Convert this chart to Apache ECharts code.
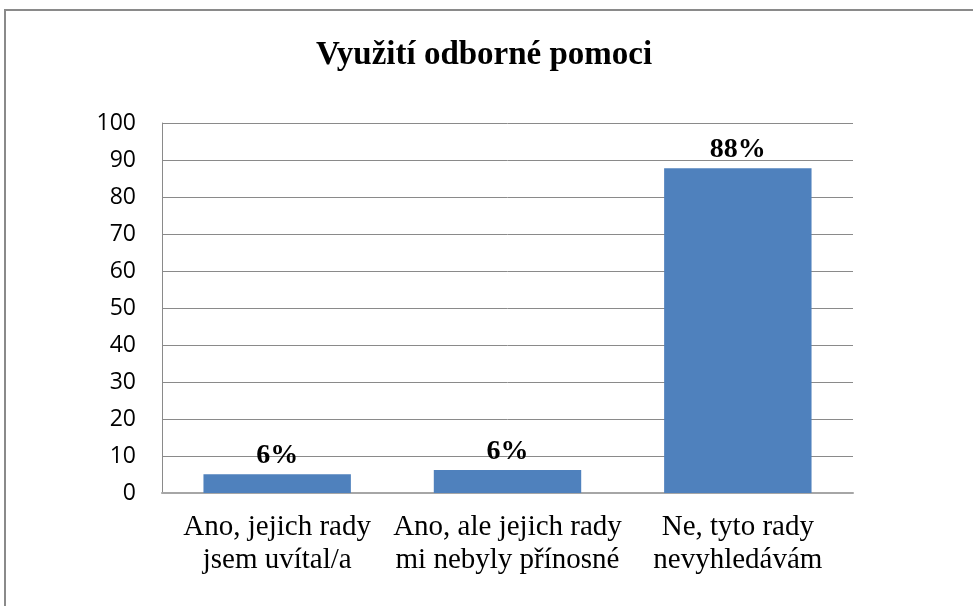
<!DOCTYPE html>
<html>
<head>
<meta charset="utf-8">
<script src="https://cdn.jsdelivr.net/npm/echarts@6/dist/echarts.min.js"></script>
<style>
  html, body { margin: 0; padding: 0; background: #fff; }
  #chart { width: 973px; height: 606px; }
</style>
</head>
<body>
<div id="chart"></div>
<script>
// hodnoty
const categories = ['Ano, jejich rady\njsem uvítal/a', 'Ano, ale jejich rady\nmi nebyly přínosné', 'Ne, tyto rady\nnevyhledávám']
const values = [5.1, 6.2, 87.8]
const labels = ['6%', '6%', '88%']

const chart = echarts.init(document.getElementById('chart'))
chart.setOption({
  animation: false,
  title: {
    text: 'Využití odborné pomoci',
    left: 311,
    top: 34,
    textStyle: {
      fontFamily: 'Liberation Serif',
      fontWeight: 'bold',
      fontSize: 33,
      color: '#000'
    }
  },
  graphic: [{
    type: 'rect',
    shape: { x: 5, y: 10, width: 1100, height: 800 },
    style: { fill: 'none', stroke: '#8a8a8a', lineWidth: 2 },
    silent: true
  }],
  grid: {
    left: 162,
    right: 120,
    top: 123,
    bottom: 113
  },
  xAxis: {
    type: 'category',
    data: categories,
    axisTick: { show: false },
    axisLine: { lineStyle: { color: '#a6a6a6', width: 2 } },
    axisLabel: {
      interval: 0,
      hideOverlap: false,
      margin: 18,
      lineHeight: 33,
      fontFamily: 'Liberation Serif',
      fontSize: 29,
      color: '#000'
    }
  },
  yAxis: {
    type: 'value',
    min: 0,
    max: 100,
    interval: 10,
    axisLine: { show: true, lineStyle: { color: '#8a8a8a' } },
    axisTick: { show: false },
    axisLabel: {
      margin: 26,
      fontFamily: 'Open Sans',
      fontSize: 23,
      color: '#000'
    },
    splitLine: { lineStyle: { color: '#8a8a8a' } }
  },
  series: [{
    type: 'bar',
    data: values,
    barCategoryGap: '36%',
    itemStyle: { color: '#4f81bd' },
    label: {
      show: true,
      position: 'top',
      distance: 4,
      formatter: p => labels[p.dataIndex],
      fontFamily: 'Liberation Serif',
      fontWeight: 'bold',
      fontSize: 28,
      color: '#000'
    }
  }]
})
</script>
</body>
</html>
